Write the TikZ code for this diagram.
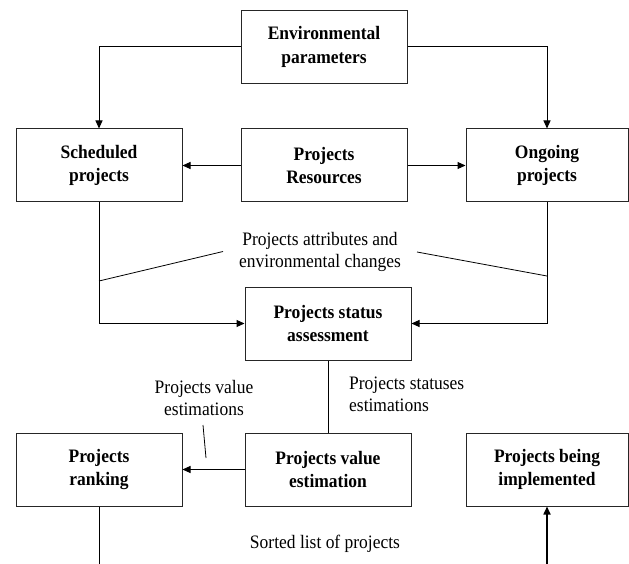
\documentclass[tikz,border=0pt]{standalone}
\usepackage{fontspec}
\setmainfont[FakeStretch=0.92]{Liberation Serif}
\usetikzlibrary{arrows.meta}
\begin{document}
\begin{tikzpicture}[x=1pt,y=-1pt,
  box/.style={draw=black!85, line width=1pt, minimum width=166pt, minimum height=73pt,
    align=center, inner sep=0pt, font=\fontsize{19}{23.3}\selectfont\bfseries,
    execute at begin node={\rule{0pt}{22pt}}},
  lbl/.style={inner sep=0pt, font=\fontsize{19}{22}\selectfont},
  conn/.style={line width=1pt},
  arr/.style={conn, -{Triangle[length=8pt,width=7pt]}}]
\useasboundingbox (0,0) rectangle (629,564);
\node[box] (env) at (324,47) {Environmental\\parameters};
\node[box] (sched) at (99,165.5) {Scheduled\\projects};
\node[box] (res) at (324,165.5) {Projects\\Resources};
\node[box, minimum width=162pt] (ongo) at (547,165.5) {Ongoing\\projects};
\node[box] (status) at (328,323.5) {Projects status\\assessment};
\node[box] (value) at (328,469.5) {Projects value\\estimation};
\node[box] (rank) at (99,469.5) {Projects\\ranking};
\node[box, minimum width=162pt] (impl) at (547,469.5) {Projects being\\implemented};

\node[lbl, align=center] (attr) at (320,252) {Projects attributes and\\environmental changes};
\node[lbl, align=left, anchor=west] (stat) at (349,394) {Projects statuses\\estimations};
\node[lbl, align=center] (pve) at (204,398) {Projects value\\estimations};
\node[lbl] (sorted) at (325,544) {Sorted list of projects};

\coordinate (bl) at (99,564);
\coordinate (br) at (547,564);
\coordinate (attrL) at (223,251.5);
\coordinate (attrR) at (417,252);
\coordinate (tapL) at (99,281);
\coordinate (tapR) at (547,276);
\coordinate (pveA) at (203,425);
\coordinate (pveB) at (206,458);

\draw[arr] (env.west) -| (sched.north);
\draw[arr] (env.east) -| (ongo.north);
\draw[arr] (res.west) -- (sched.east);
\draw[arr] (res.east) -- (ongo.west);
\draw[arr] (sched.south) |- (status.west);
\draw[arr] (ongo.south) |- (status.east);
\draw[conn] (status.south) -- (value.north);
\draw[arr] (value.west) -- (rank.east);
\draw[conn] (rank.south) -- (bl);
\draw[arr, line width=1.6pt] (br) -- (impl.south);

\draw[line width=0.8pt] (attrL) -- (tapL);
\draw[line width=0.8pt] (attrR) -- (tapR);
\draw[line width=0.8pt] (pveA) -- (pveB);
\end{tikzpicture}
\end{document}
